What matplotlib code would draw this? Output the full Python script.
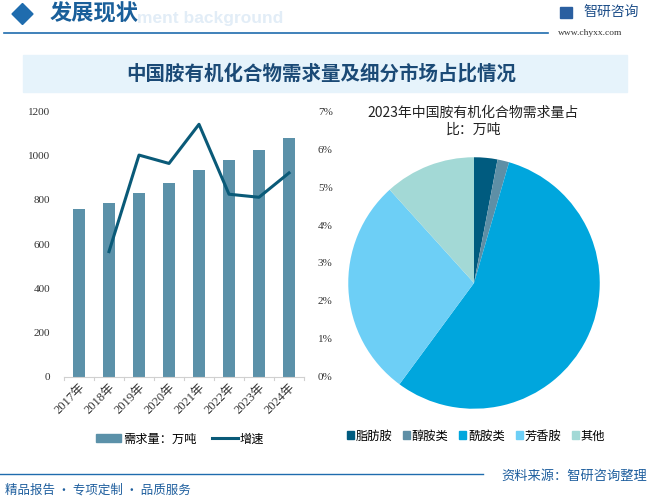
import matplotlib
matplotlib.use("Agg")
from matplotlib import pyplot as plt
from matplotlib.patches import Rectangle, Polygon
from matplotlib.lines import Line2D
import numpy as np

plt.rcParams['font.family'] = ['Noto Sans CJK SC', 'DejaVu Sans']

# data
years = ["2017年", "2018年", "2019年", "2020年", "2021年", "2022年", "2023年", "2024年"]
demand = [758, 785, 830, 875, 934, 979, 1024, 1078]
growth = [None, 3.3, 5.84, 5.62, 6.65, 4.81, 4.73, 5.37]

pieLabels = ["脂肪胺", "醇胺类", "酰胺类", "芳香胺", "其他"]
pieValues = [3.0, 1.5, 55.6, 28.2, 11.7]
pieColors = ["#005b7f", "#5e8fa6", "#00a6dd", "#6dcff6", "#a3d9d6"]

barColor = "#5b91a9"
lineColor = "#0a5a78"
blue = "#1a5f9a"

W, H = 651, 498
fig = plt.figure(figsize=(W / 100, H / 100), dpi=100)


def fx(px):
    return px / W


def fy(py):
    return 1 - py / H


# header (the faded english text is half hidden behind the title in the original)
fig.text(fx(283), fy(18), "ment background", fontsize=12.5, fontweight="bold",
         color="#e2edf7", va="center", ha="right", family=["Liberation Sans"])
fig.patches.append(Polygon([[fx(12), fy(14)], [fx(22.5), fy(3.5)], [fx(33), fy(14)], [fx(22.5), fy(24.5)]],
                           closed=True, transform=fig.transFigure, color="#1f6cae"))
fig.text(fx(50), fy(14), "发展现状", fontsize=16, color=blue, va="center", ha="left",
         fontweight="bold")
fig.add_artist(Line2D([fx(4), fx(548)], [fy(33), fy(33)], color="#1f6cae", lw=1.2))
fig.patches.append(Rectangle((fx(560), fy(18)), 12 / W, 11 / H, transform=fig.transFigure,
                             color="#2a5fa0"))
fig.text(fx(583), fy(12), "智研咨询", fontsize=10, color="#1d4e89", va="center", ha="left")
fig.text(fx(558), fy(33), "www.chyxx.com", fontsize=6.8, color="#333333", va="center",
         ha="left", family=["Liberation Serif"])

# title band
fig.patches.append(Rectangle((fx(23), fy(92)), (627 - 23) / W, 37 / H,
                             transform=fig.transFigure, color="#e6f3fb"))
fig.text(fx(321), fy(74), "中国胺有机化合物需求量及细分市场占比情况", fontsize=14,
         fontweight="bold", color="#1b4a76", va="center", ha="center")

# bar + line chart
ax = fig.add_axes([fx(64), fy(377), (304 - 64) / W, (377 - 111) / H])
x = np.arange(len(years))
ax.bar(x, demand, width=0.39, color=barColor, zorder=2)
ax.set_xlim(-0.5, len(years) - 0.5)
ax.set_ylim(0, 1200)
ax.set_yticks(range(0, 1201, 200))
ax.set_xticks(x)
ax.set_xticklabels(years, rotation=45, ha="right", rotation_mode="anchor",
                   family=["Liberation Serif", "Noto Sans CJK SC"], fontsize=9, color="#333333")
for lbl in ax.get_yticklabels():
    lbl.set_family(["Liberation Serif"])
ax.tick_params(axis="y", length=0, labelsize=8, pad=10, labelcolor="#333333")
ax.tick_params(axis="x", length=0, pad=3)
for s in ["top", "left", "right"]:
    ax.spines[s].set_visible(False)
ax.spines["bottom"].set_color("#d0d0d0")
for b in np.arange(-0.5, len(years), 1.0):
    ax.plot([b, b], [0, -12], color="#d0d0d0", lw=0.8, clip_on=False)

ax2 = ax.twinx()
gx = [i for i, g in enumerate(growth) if g is not None]
gy = [g for g in growth if g is not None]
ax2.plot(gx, gy, color=lineColor, lw=2.2, zorder=3)
ax2.set_ylim(0, 7)
ax2.set_yticks(range(0, 8))
ax2.set_yticklabels(["%d%%" % v for v in range(0, 8)], family=["Liberation Serif"])
ax2.tick_params(axis="y", length=0, labelsize=8, pad=10, labelcolor="#333333")
for s in ["top", "left", "right", "bottom"]:
    ax2.spines[s].set_visible(False)

handles = [Rectangle((0, 0), 1, 1, color=barColor), Line2D([0], [0], color=lineColor, lw=2.2)]
fig.legend(handles, ["需求量：万吨", "增速"], loc="center", bbox_to_anchor=(fx(180), fy(439)),
           ncol=2, frameon=False, fontsize=8.8, handlelength=2.1, handleheight=0.6,
           columnspacing=1.2, handletextpad=0.2)

# pie chart
pax = fig.add_axes([fx(347), fy(410), 254 / W, 254 / H])
pax.pie(pieValues, colors=pieColors, startangle=90, counterclock=False,
        wedgeprops=dict(linewidth=0))
pax.set_aspect("equal")
pax.set_xlim(-1.01, 1.01)
pax.set_ylim(-1.01, 1.01)
fig.text(fx(473), fy(113), "2023年中国胺有机化合物需求量占", fontsize=10, color="#222222",
         ha="center", va="center")
fig.text(fx(474), fy(130), "比：万吨", fontsize=10, color="#222222", ha="center", va="center")

phandles = [Rectangle((0, 0), 1, 1, color=c) for c in pieColors]
fig.legend(phandles, pieLabels, loc="center", bbox_to_anchor=(fx(476), fy(436)), ncol=5,
           frameon=False, fontsize=8.8, handlelength=0.55, handleheight=0.55,
           columnspacing=0.9, handletextpad=0.15)

# footer
fig.add_artist(Line2D([fx(0), fx(483)], [fy(474), fy(474)], color="#1f6cae", lw=1.0))
fig.text(fx(501), fy(476), "资料来源：智研咨询整理", fontsize=9.5, color="#1f5f9e",
         ha="left", va="center")
fig.text(fx(5), fy(490), "精品报告 · 专项定制 · 品质服务", fontsize=9, color="#1f5f9e",
         ha="left", va="center")

fig.savefig("out.png", dpi=100)
